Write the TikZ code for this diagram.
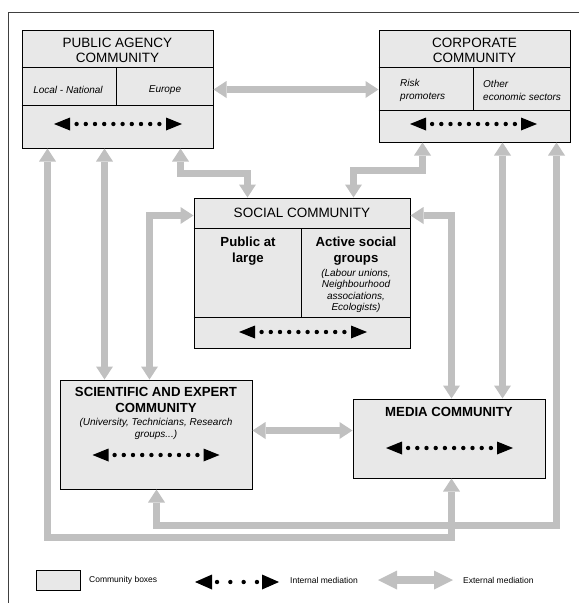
\documentclass[tikz,border=0pt]{standalone}
\usepackage{fontspec}
\setmainfont{Liberation Sans}
\usetikzlibrary{arrows.meta,calc}
\definecolor{boxfill}{RGB}{232,232,232}
\definecolor{extgray}{RGB}{192,192,192}
\tikzset{
  commbox/.style={draw=black, line width=1pt, fill=boxfill, rectangle, inner sep=0pt},
  divline/.style={draw=black, line width=1pt},
  ext/.style={draw=extgray, line width=7pt,
    {Triangle[width=17pt,length=13pt,line width=0pt]}-{Triangle[width=17pt,length=13pt,line width=0pt]}},
  extleg/.style={draw=extgray, line width=8pt,
    {Triangle[width=19pt,length=19pt,line width=0pt]}-{Triangle[width=19pt,length=19pt,line width=0pt]}},
  titletxt/.style={font=\fontsize{13.5}{15}\selectfont, align=center, inner sep=0pt},
  btitletxt/.style={font=\fontsize{13.2}{15.5}\selectfont\bfseries, align=center, inner sep=0pt},
  subtxt/.style={font=\fontsize{10}{11.5}\selectfont\itshape, align=center, inner sep=0pt},
  subltxt/.style={font=\fontsize{10}{13}\selectfont\itshape, align=left, anchor=west, inner sep=0pt},
  legtxt/.style={font=\fontsize{8.5}{10}\selectfont, anchor=west, inner sep=0pt},
  pics/intarrow/.style n args={5}{code={
    % #1 half length, #2 dots, #3 spacing, #4 head length, #5 head half height
    \fill[black] (-#1,0) -- ++(#4,-#5) -- ++(0,2*#5) -- cycle;
    \fill[black] (#1,0) -- ++(-#4,-#5) -- ++(0,2*#5) -- cycle;
    \foreach \k in {1,...,#2}{\fill[black] ({(\k-(#2+1)/2)*#3},0) circle (2.2pt);}
  }}
}
\begin{document}
\begin{tikzpicture}[x=1pt,y=-1pt]
\useasboundingbox (0,0) rectangle (579,603);
% frame
\draw[line width=1pt, black!75] (579,12) -- (8,12) -- (8,603);

% ---------- boxes ----------
\node[commbox, minimum width=191pt, minimum height=118pt] (pa) at (117.5,89) {};
\node[commbox, minimum width=191pt, minimum height=112pt] (corp) at (474.5,86) {};
\node[commbox, minimum width=216pt, minimum height=150pt] (soc) at (302,273) {};
\node[commbox, minimum width=192pt, minimum height=109pt] (sci) at (156,434.5) {};
\node[commbox, minimum width=192pt, minimum height=79pt] (med) at (449,438.5) {};

% public agency
\draw[divline] ($(pa.north west)+(0,38)$) -- ($(pa.north east)+(0,38)$);
\draw[divline] ($(pa.north west)+(0,76)$) -- ($(pa.north east)+(0,76)$);
\draw[divline] ($(pa.north west)+(95,38)$) -- ($(pa.north west)+(95,76)$);
\node[titletxt] (pat) at (117.5,50) {PUBLIC AGENCY\\COMMUNITY};
\node[subtxt] (pal) at (68,90) {Local - National};
\node[subtxt] (pae) at (165,90) {Europe};
\pic at (118,124) {intarrow={64}{10}{9.2}{16}{6.5}};

% corporate
\draw[divline] ($(corp.north west)+(0,38)$) -- ($(corp.north east)+(0,38)$);
\draw[divline] ($(corp.north west)+(0,81)$) -- ($(corp.north east)+(0,81)$);
\draw[divline] ($(corp.north west)+(95,38)$) -- ($(corp.north west)+(95,81)$);
\node[titletxt] (cot) at (474.5,50) {CORPORATE\\COMMUNITY};
\node[subltxt] (cor) at (400,90.5) {Risk\\promoters};
\node[subltxt] (coo) at (483,90.5) {Other\\economic sectors};
\pic at (473.5,124) {intarrow={63.5}{10}{9.2}{16}{6.5}};

% social
\draw[divline] ($(soc.north west)+(0,31)$) -- ($(soc.north east)+(0,31)$);
\draw[divline] ($(soc.north west)+(0,120)$) -- ($(soc.north east)+(0,120)$);
\draw[divline] ($(soc.north west)+(108,31)$) -- ($(soc.north west)+(108,120)$);
\node[titletxt] (sot) at (302,213) {SOCIAL COMMUNITY};
\node[btitletxt] (sop) at (248,251) {Public at\\large};
\node[btitletxt] (soa) at (356,251) {Active social\\groups};
\node[subtxt] (sol) at (356,291) {(Labour unions,\\Neighbourhood\\associations,\\Ecologists)};
\pic at (303,332) {intarrow={64}{10}{9.2}{16}{6.5}};

% scientific
\node[btitletxt] (sct) at (156,400) {SCIENTIFIC AND EXPERT\\COMMUNITY};
\node[subtxt] (scs) at (156,429) {(University, Technicians, Research\\groups...)};
\pic at (156,455) {intarrow={63.5}{10}{9.2}{16}{6.5}};

% media
\node[btitletxt] (met) at (449,412) {MEDIA COMMUNITY};
\pic at (449.5,448) {intarrow={63.5}{10}{9.2}{16}{6.5}};

% ---------- external mediation connectors ----------
\draw[ext] ($(pa.north east)+(0,60)$) -- ($(corp.north west)+(0,60)$);
\draw[ext] ($(pa.south west)+(159,0)$) -- ++(0,25) -| ($(soc.north west)+(54,0)$);
\draw[ext] ($(corp.south west)+(44,0)$) -- ++(0,28) -| ($(soc.north west)+(160,0)$);
\draw[ext] ($(pa.south west)+(26,0)$) |- ($(med.south west)+(99,59)$) -- ($(med.south west)+(99,0)$);
\draw[ext] ($(pa.south west)+(83,0)$) -- ($(sci.north west)+(45,0)$);
\draw[ext] ($(sci.north west)+(90,0)$) |- ($(soc.north west)+(0,18)$);
\draw[ext] ($(soc.north east)+(0,18)$) -| ($(med.north west)+(99,0)$);
\draw[ext] ($(corp.south west)+(124,0)$) -- ($(med.north west)+(150,0)$);
\draw[ext] ($(sci.south east)+(0,-59)$) -- ($(med.south west)+(0,-48)$);
\draw[ext] ($(sci.south west)+(97,0)$) |- ($(corp.south west)+(178,383)$) -- ($(corp.south west)+(178,0)$);

% ---------- legend ----------
\node[commbox, minimum width=44pt, minimum height=20pt] (lgbox) at (58,580) {};
\node[legtxt] (lgb) at (89,580) {Community boxes};
\pic at (237,582) {intarrow={42}{4}{13.3}{17}{7.5}};
\node[legtxt] (lgi) at (290,580) {Internal mediation};
\coordinate (lgea) at (378,580);
\coordinate (lgeb) at (453,580);
\draw[extleg] (lgea) -- (lgeb);
\node[legtxt] (lge) at (463,580) {External mediation};
\end{tikzpicture}
\end{document}
